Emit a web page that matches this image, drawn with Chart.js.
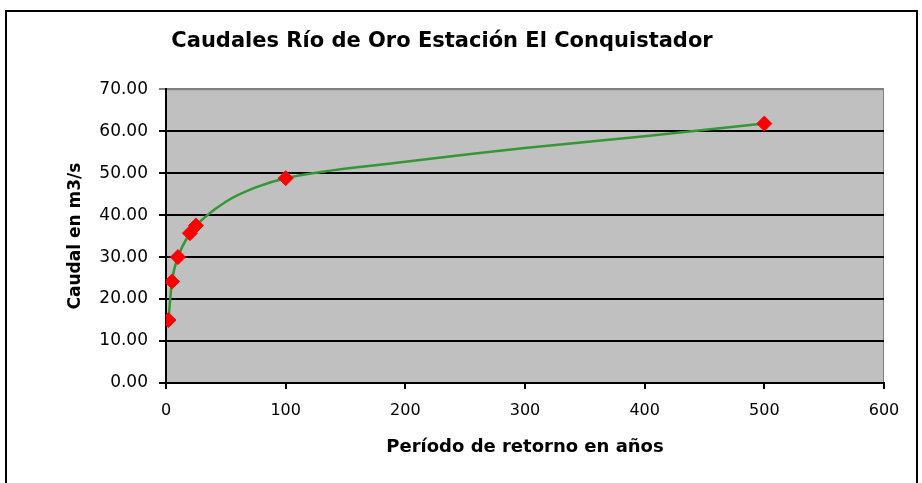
<!DOCTYPE html>
<html>
<head>
<meta charset="utf-8">
<script src="https://cdn.jsdelivr.net/npm/chart.js@4"></script>
<style>
  html, body { margin: 0; padding: 0; background: #fff; }
  #wrap { width: 922px; height: 483px; }
</style>
</head>
<body>
<div id="wrap"><canvas id="caudalChart"></canvas></div>
<script>
// periodo de retorno (años) y caudal (m3/s) - puntos marcados
const periodos = [2, 5, 10, 20, 25, 100, 500];
const caudales = [15.0, 24.2, 30.0, 35.7, 37.5, 48.8, 61.8];
// curva ajustada
const curvaPeriodos = [2, 5, 10, 20, 25, 50, 75, 100, 200, 300, 400, 500];
const curvaCaudales = [15.0, 24.2, 30.0, 35.7, 37.5, 43.2, 46.6, 48.8, 52.7, 56.0, 58.8, 61.8];
const yTicks = [0, 10, 20, 30, 40, 50, 60, 70];
const xTicks = [0, 100, 200, 300, 400, 500, 600];

const fontFamily = "'DejaVu Sans', Verdana, sans-serif";

// marco exterior y fondo gris del area de trazado
const framePlugin = {
  id: "frame",
  beforeDraw(chart) {
    const ctx = chart.ctx;
    const a = chart.chartArea;
    ctx.save();
    ctx.fillStyle = "#fff";
    ctx.fillRect(0, 0, chart.width, chart.height);
    ctx.strokeStyle = "#000";
    ctx.lineWidth = 2;
    ctx.strokeRect(6, 11, 911, 500);
    ctx.fillStyle = "#c0c0c0";
    ctx.fillRect(a.left, a.top, a.right - a.left, a.bottom - a.top);
    ctx.strokeStyle = "#808080";
    ctx.lineWidth = 1;
    ctx.strokeRect(a.left + 0.5, a.top + 0.5, a.right - a.left - 1, a.bottom - a.top - 1);
    ctx.restore();
  }
};

document.addEventListener("DOMContentLoaded", () => {
  const canvas = document.getElementById("caudalChart");
  new Chart(canvas, {
    type: "scatter",
    data: {
      datasets: [{
        label: "Curva",
        data: curvaPeriodos.map((p, i) => ({ x: p, y: curvaCaudales[i] })),
        showLine: true,
        cubicInterpolationMode: "monotone",
        borderColor: "#359635",
        borderWidth: 2.5,
        pointRadius: 0,
        pointHoverRadius: 0,
        order: 2
      }, {
        label: "Caudal",
        data: periodos.map((p, i) => ({ x: p, y: caudales[i] })),
        showLine: false,
        pointStyle: "rectRot",
        pointRadius: 7.5,
        pointHoverRadius: 7.5,
        pointBackgroundColor: "#ff0000",
        pointBorderColor: "#ff0000",
        pointBorderWidth: 1,
        order: 1
      }]
    },
    options: {
      responsive: true,
      maintainAspectRatio: false,
      animation: false,
      devicePixelRatio: 1,
      layout: { padding: { left: 0, right: 38, top: 0, bottom: 0 } },
      plugins: {
        legend: { display: false },
        tooltip: { enabled: false },
        title: {
          display: true,
          text: "Caudales Río de Oro Estación El Conquistador",
          color: "#000",
          font: { family: fontFamily, size: 21, weight: "bold" },
          padding: { top: 29, bottom: 35 }
        }
      },
      scales: {
        x: {
          type: "linear",
          min: 0,
          max: 600,
          afterBuildTicks: (scale) => { scale.ticks = xTicks.map(v => ({ value: v })); },
          afterFit: (scale) => { scale.height = 100; },
          border: { color: "#000", width: 2 },
          grid: { drawOnChartArea: false, drawTicks: true, tickLength: 6, color: "#000", lineWidth: 2 },
          ticks: {
            color: "#000",
            padding: 12,
            maxRotation: 0,
            font: { family: fontFamily, size: 16 }
          },
          title: {
            display: true,
            text: "Período de retorno en años",
            color: "#000",
            font: { family: fontFamily, size: 18, weight: "bold" },
            padding: { top: 0, bottom: 25 }
          }
        },
        y: {
          type: "linear",
          min: 0,
          max: 70,
          afterBuildTicks: (scale) => { scale.ticks = yTicks.map(v => ({ value: v })); },
          afterFit: (scale) => { scale.width = 166; },
          border: { color: "#000", width: 2 },
          grid: {
            drawTicks: true,
            tickLength: 7,
            color: (c) => (c.tick && c.tick.value === 70 ? "#808080" : "#000"),
            lineWidth: 2
          },
          ticks: {
            color: "#000",
            padding: 11,
            font: { family: fontFamily, size: 17 },
            callback: (v) => Number(v).toFixed(2)
          },
          title: {
            display: true,
            text: "Caudal en m3/s",
            color: "#000",
            font: { family: fontFamily, size: 17, weight: "bold" },
            padding: { top: 65, bottom: 0 }
          }
        }
      }
    },
    plugins: [framePlugin]
  });
});
</script>
</body>
</html>
